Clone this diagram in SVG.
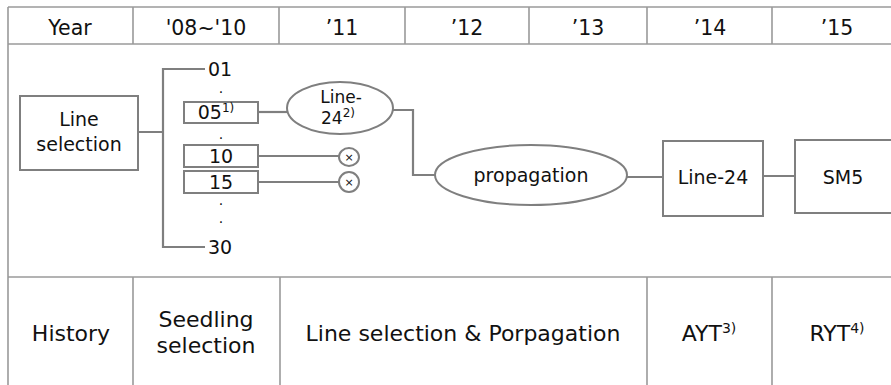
<svg xmlns="http://www.w3.org/2000/svg" width="891" height="385" viewBox="0 0 891 385">
<style>
.grid{stroke:#9a9a9a;stroke-width:1.6;fill:none}
.shape{stroke:#7f7f7f;stroke-width:2;fill:#fff}
.conn{stroke:#7f7f7f;stroke-width:2.2;fill:none}
text{font-family:"DejaVu Sans","Liberation Sans",sans-serif;fill:#111;text-anchor:middle}
.hd{font-size:20.5px}
.bt{font-size:22px}
.nd{font-size:19px}
.sm{font-size:17px}
.sup{font-size:12px}
.dot{font-size:14px}
</style>
<rect width="891" height="385" fill="#fff"/>
<g id="table" class="grid">
<path d="M8 7V385M8 7H891M8 44H891M8 277H891"/>
<path d="M133 7V44M279 7V44M405 7V44M529 7V44M647 7V44M772 7V44"/>
<path d="M133 277V385M280 277V385M647 277V385M772 277V385"/>
</g>
<g id="header">
<text class="hd" x="70" y="35">Year</text>
<text class="hd" x="206" y="35">'08~'10</text>
<text class="hd" x="342" y="35">’11</text>
<text class="hd" x="467" y="35">’12</text>
<text class="hd" x="588" y="35">’13</text>
<text class="hd" x="710" y="35">’14</text>
<text class="hd" x="837" y="35">’15</text>
</g>
<g id="connectors" class="conn">
<path d="M138 132H163M205 69H163V247H205"/>
<path d="M258 112H288"/>
<path d="M258 156H339M258 182H339"/>
<path d="M393 110H413V175H435"/>
<path d="M627 177H663M763 176H795"/>
</g>
<g id="line-selection">
<rect class="shape" x="20" y="96" width="118" height="74"/>
<text class="nd" x="79" y="126">Line</text>
<text class="nd" x="79" y="151">selection</text>
</g>
<g id="n01"><text class="nd" x="220" y="76">01</text></g>
<g id="dots">
<text class="dot" x="221" y="93">.</text>
<text class="dot" x="221" y="139">.</text>
<text class="dot" x="221" y="205">.</text>
<text class="dot" x="221" y="223">.</text>
</g>
<g id="n05">
<rect class="shape" x="184" y="102" width="74" height="21"/>
<text class="nd" x="216" y="119">05<tspan class="sup" dy="-7">1)</tspan></text>
</g>
<g id="n10">
<rect class="shape" x="184" y="145" width="74" height="22"/>
<text class="nd" x="221" y="163">10</text>
</g>
<g id="n15">
<rect class="shape" x="184" y="171" width="74" height="22"/>
<text class="nd" x="221" y="189">15</text>
</g>
<g id="n30"><text class="nd" x="220" y="254">30</text></g>
<g id="x1">
<ellipse class="shape" cx="349" cy="157" rx="10" ry="9" stroke-width="1.6"/>
<text x="349" y="161" font-size="11">×</text>
</g>
<g id="x2">
<ellipse class="shape" cx="349" cy="182" rx="10" ry="10" stroke-width="1.6"/>
<text x="349" y="186" font-size="11">×</text>
</g>
<g id="line24-ellipse">
<ellipse class="shape" cx="340" cy="108" rx="53" ry="26"/>
<text class="sm" x="341" y="103">Line-</text>
<text class="sm" x="338" y="124">24<tspan class="sup" dy="-7">2)</tspan></text>
</g>
<g id="propagation">
<ellipse class="shape" cx="531" cy="175" rx="96" ry="30"/>
<text class="nd" x="531" y="182">propagation</text>
</g>
<g id="line24-box">
<rect class="shape" x="663" y="141" width="100" height="75"/>
<text class="nd" x="713" y="184">Line-24</text>
</g>
<g id="sm5">
<rect class="shape" x="795" y="140" width="110" height="73"/>
<text class="nd" x="843" y="184" font-size="21">SM5</text>
</g>
<g id="footer">
<text class="bt" x="71" y="341">History</text>
<text class="bt" x="206" y="327">Seedling</text>
<text class="bt" x="206" y="353">selection</text>
<text class="bt" x="463" y="341">Line selection &amp; Porpagation</text>
<text class="bt" x="709" y="341">AYT<tspan font-size="14" dy="-8">3)</tspan></text>
<text class="bt" x="837" y="341">RYT<tspan font-size="14" dy="-8">4)</tspan></text>
</g>
</svg>
